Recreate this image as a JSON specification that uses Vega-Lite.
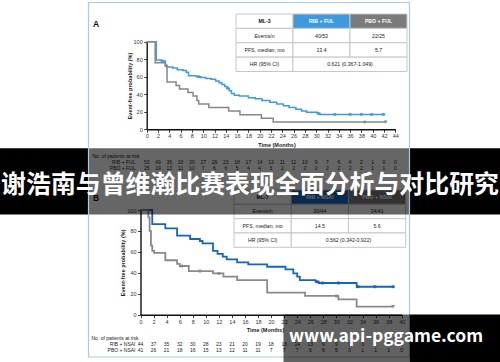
{
"$schema": "https://vega.github.io/schema/vega-lite/v6.json",
"width": 500, "height": 362, "padding": 0, "autosize": {"type": "none"},
"background": "#ffffff",
"config": {"view": {"stroke": null}, "font": "Liberation Sans", "text": {"font": "Liberation Sans"}},
"resolve": {"scale": {"x": "independent", "y": "independent", "color": "independent", "fill": "independent"}, "axis": {"x": "independent", "y": "independent"}},
"layer": [
{
 "data": {"values": [{"panel": "A"}, {"panel": "B"}]},
 "mark": {"type": "text", "fontSize": 8.5, "fontWeight": "bold", "align": "left", "baseline": "middle", "color": "#111111"},
 "encoding": {
  "text": {"field": "panel"},
  "x": {"datum": 93, "type": "quantitative", "scale": {"domain": [0, 500], "range": [0, 500], "nice": false, "zero": false}, "axis": null},
  "y": {"field": "panel", "type": "nominal", "scale": {"type": "point", "domain": ["A", "B"], "range": [23.7, 197.5], "padding": 0}, "axis": null}
 }
},
{
 "data": {"values": [
  {"row": "header", "c0": "label", "c1": "label", "text": "ML-3", "kind": "plain"},
  {"row": "header", "c0": "RIB", "c1": "RIB", "text": "RIB + FUL", "kind": "RIB"},
  {"row": "header", "c0": "PBO", "c1": "PBO", "text": "PBO + FUL", "kind": "PBO"},
  {"row": "events", "c0": "label", "c1": "label", "text": "Events/n", "kind": "plain"},
  {"row": "events", "c0": "RIB", "c1": "RIB", "text": "40/53", "kind": "plain"},
  {"row": "events", "c0": "PBO", "c1": "PBO", "text": "22/25", "kind": "plain"},
  {"row": "pfs", "c0": "label", "c1": "label", "text": "PFS, median, mo", "kind": "plain"},
  {"row": "pfs", "c0": "RIB", "c1": "RIB", "text": "13.4", "kind": "plain"},
  {"row": "pfs", "c0": "PBO", "c1": "PBO", "text": "5.7", "kind": "plain"},
  {"row": "hr", "c0": "label", "c1": "label", "text": "HR (95% CI)", "kind": "plain"},
  {"row": "hr", "c0": "RIB", "c1": "PBO", "text": "0.621 (0.367-1.049)", "kind": "plain"}
 ]},
 "layer": [
  {"mark": {"type": "rect", "stroke": "#c6c6c6", "strokeWidth": 1},
   "encoding": {
    "x": {"field": "c0", "type": "nominal", "bandPosition": 0, "scale": {"type": "band", "domain": ["label", "RIB", "PBO"], "range": [236, 407], "paddingInner": 0, "paddingOuter": 0}, "axis": null},
    "x2": {"field": "c1", "bandPosition": 1},
    "y": {"field": "row", "type": "nominal", "bandPosition": 0, "scale": {"type": "band", "domain": ["header", "events", "pfs", "hr"], "range": [14, 71.5], "paddingInner": 0, "paddingOuter": 0}, "axis": null},
    "y2": {"field": "row", "bandPosition": 1},
    "fill": {"field": "kind", "type": "nominal", "scale": {"domain": ["plain", "RIB", "PBO"], "range": ["#ffffff", "#3f9add", "#7b7b7b"]}, "legend": null}
   }},
  {"transform": [{"filter": "datum.row == 'header'"}],
   "mark": {"type": "text", "fontSize": 5.2, "fontWeight": "bold", "align": "center", "baseline": "middle"},
   "encoding": {
    "x": {"field": "c0", "type": "nominal", "bandPosition": 0.5, "scale": {"type": "band", "domain": ["label", "RIB", "PBO"], "range": [236, 407], "paddingInner": 0, "paddingOuter": 0}, "axis": null},
    "y": {"field": "row", "type": "nominal", "bandPosition": 0.5, "scale": {"type": "band", "domain": ["header", "events", "pfs", "hr"], "range": [14, 71.5], "paddingInner": 0, "paddingOuter": 0}, "axis": null},
    "text": {"field": "text"},
    "color": {"field": "kind", "type": "nominal", "scale": {"domain": ["plain", "RIB", "PBO"], "range": ["#111111", "#ffffff", "#ffffff"]}, "legend": null}
   }},
  {"transform": [{"filter": "datum.row != 'header' && datum.c0 == datum.c1"}],
   "mark": {"type": "text", "fontSize": 5.2, "align": "center", "baseline": "middle", "color": "#222222"},
   "encoding": {
    "x": {"field": "c0", "type": "nominal", "bandPosition": 0.5, "scale": {"type": "band", "domain": ["label", "RIB", "PBO"], "range": [236, 407], "paddingInner": 0, "paddingOuter": 0}, "axis": null},
    "y": {"field": "row", "type": "nominal", "bandPosition": 0.5, "scale": {"type": "band", "domain": ["header", "events", "pfs", "hr"], "range": [14, 71.5], "paddingInner": 0, "paddingOuter": 0}, "axis": null},
    "text": {"field": "text"}
   }},
  {"transform": [{"filter": "datum.c0 != datum.c1"}],
   "mark": {"type": "text", "fontSize": 5.2, "align": "center", "baseline": "middle", "color": "#222222"},
   "encoding": {
    "x": {"field": "c1", "type": "nominal", "bandPosition": 0, "scale": {"type": "band", "domain": ["label", "RIB", "PBO"], "range": [236, 407], "paddingInner": 0, "paddingOuter": 0}, "axis": null},
    "y": {"field": "row", "type": "nominal", "bandPosition": 0.5, "scale": {"type": "band", "domain": ["header", "events", "pfs", "hr"], "range": [14, 71.5], "paddingInner": 0, "paddingOuter": 0}, "axis": null},
    "text": {"field": "text"}
   }}
 ]
},
{
 "data": {"values": [
  {"arm": "RIB + FUL", "t": 0, "s": 100}, {"arm": "RIB + FUL", "t": 1.7, "s": 79}, {"arm": "RIB + FUL", "t": 2.6, "s": 78}, {"arm": "RIB + FUL", "t": 3.3, "s": 73}, {"arm": "RIB + FUL", "t": 3.6, "s": 71}, {"arm": "RIB + FUL", "t": 4.6, "s": 70}, {"arm": "RIB + FUL", "t": 5.4, "s": 68}, {"arm": "RIB + FUL", "t": 6.4, "s": 67}, {"arm": "RIB + FUL", "t": 7.0, "s": 65}, {"arm": "RIB + FUL", "t": 7.4, "s": 61}, {"arm": "RIB + FUL", "t": 8.8, "s": 60}, {"arm": "RIB + FUL", "t": 9.6, "s": 59}, {"arm": "RIB + FUL", "t": 10.5, "s": 58}, {"arm": "RIB + FUL", "t": 11.4, "s": 57}, {"arm": "RIB + FUL", "t": 12.2, "s": 55}, {"arm": "RIB + FUL", "t": 12.8, "s": 53}, {"arm": "RIB + FUL", "t": 13.3, "s": 51}, {"arm": "RIB + FUL", "t": 13.8, "s": 49}, {"arm": "RIB + FUL", "t": 14.2, "s": 47}, {"arm": "RIB + FUL", "t": 14.6, "s": 44}, {"arm": "RIB + FUL", "t": 15.0, "s": 41}, {"arm": "RIB + FUL", "t": 15.5, "s": 39}, {"arm": "RIB + FUL", "t": 16.4, "s": 38}, {"arm": "RIB + FUL", "t": 18.0, "s": 36}, {"arm": "RIB + FUL", "t": 19.2, "s": 35}, {"arm": "RIB + FUL", "t": 20.4, "s": 33}, {"arm": "RIB + FUL", "t": 21.8, "s": 31}, {"arm": "RIB + FUL", "t": 23.0, "s": 29}, {"arm": "RIB + FUL", "t": 24.2, "s": 27}, {"arm": "RIB + FUL", "t": 25.2, "s": 25}, {"arm": "RIB + FUL", "t": 26.4, "s": 23}, {"arm": "RIB + FUL", "t": 27.4, "s": 21}, {"arm": "RIB + FUL", "t": 28.3, "s": 19.5}, {"arm": "RIB + FUL", "t": 30.2, "s": 18}, {"arm": "RIB + FUL", "t": 30.7, "s": 17}, {"arm": "RIB + FUL", "t": 42.2, "s": 17},
  {"arm": "PBO + FUL", "t": 0, "s": 100}, {"arm": "PBO + FUL", "t": 1.5, "s": 76}, {"arm": "PBO + FUL", "t": 3.3, "s": 72}, {"arm": "PBO + FUL", "t": 3.6, "s": 54}, {"arm": "PBO + FUL", "t": 5.2, "s": 50}, {"arm": "PBO + FUL", "t": 5.8, "s": 46}, {"arm": "PBO + FUL", "t": 7.3, "s": 42}, {"arm": "PBO + FUL", "t": 8.2, "s": 38}, {"arm": "PBO + FUL", "t": 8.9, "s": 33}, {"arm": "PBO + FUL", "t": 9.2, "s": 29}, {"arm": "PBO + FUL", "t": 11.0, "s": 25}, {"arm": "PBO + FUL", "t": 14.5, "s": 21}, {"arm": "PBO + FUL", "t": 16.5, "s": 16.5}, {"arm": "PBO + FUL", "t": 20.3, "s": 12.5}, {"arm": "PBO + FUL", "t": 22.4, "s": 8.3}, {"arm": "PBO + FUL", "t": 42.3, "s": 8.3}
 ]},
 "mark": {"type": "line", "interpolate": "step-after", "strokeWidth": 1.5},
 "encoding": {
  "x": {"field": "t", "type": "quantitative", "scale": {"domain": [0, 44], "range": [146.7, 395.3], "nice": false, "zero": false},
   "axis": {"orient": "bottom", "offset": -232.7, "values": [0,2,4,6,8,10,12,14,16,18,20,22,24,26,28,30,32,34,36,38,40,42,44], "title": "Time (Months)", "titleX": 276.5, "titleAlign": "center", "titleFontSize": 5.5, "titleFontWeight": "bold", "titleColor": "#222222", "titlePadding": 3.2, "labelFontSize": 5.5, "labelColor": "#333333", "labelPadding": 1.5, "labelFlush": false, "labelOverlap": false, "tickSize": 3, "tickColor": "#111111", "tickWidth": 0.8, "domainColor": "#111111", "domainWidth": 1.4, "grid": false}},
  "y": {"field": "s", "type": "quantitative", "scale": {"domain": [0, 100], "range": [129.3, 41.7], "nice": false, "zero": false},
   "axis": {"orient": "left", "offset": -146.7, "values": [0,20,40,60,80,100], "title": "Event-free probability (%)", "titleFontSize": 5.5, "titleFontWeight": "bold", "titleColor": "#222222", "titlePadding": 0.5, "labelFontSize": 5.5, "labelColor": "#333333", "labelPadding": 1.5, "labelFlush": false, "labelOverlap": false, "tickSize": 3, "tickColor": "#111111", "tickWidth": 0.8, "domainColor": "#111111", "domainWidth": 1.4, "grid": false}},
  "color": {"field": "arm", "type": "nominal", "scale": {"domain": ["RIB + FUL", "PBO + FUL"], "range": ["#3d9ae0", "#878787"]}, "legend": null}
 }
},
{
 "data": {"values": [
  {"arm": "RIB + FUL", "t": 2.8, "s": 78}, {"arm": "RIB + FUL", "t": 9.2, "s": 60}, {"arm": "RIB + FUL", "t": 14.3, "s": 47}, {"arm": "RIB + FUL", "t": 30.4, "s": 18}, {"arm": "RIB + FUL", "t": 33.3, "s": 17}, {"arm": "RIB + FUL", "t": 36.0, "s": 17}, {"arm": "RIB + FUL", "t": 38.0, "s": 17}, {"arm": "RIB + FUL", "t": 39.8, "s": 17}, {"arm": "RIB + FUL", "t": 41.9, "s": 17},
  {"arm": "PBO + FUL", "t": 38.6, "s": 8.3}
 ]},
 "mark": {"type": "point", "shape": "square", "filled": true, "size": 7, "opacity": 1},
 "encoding": {
  "x": {"field": "t", "type": "quantitative", "scale": {"domain": [0, 44], "range": [146.7, 395.3], "nice": false, "zero": false}, "axis": null},
  "y": {"field": "s", "type": "quantitative", "scale": {"domain": [0, 100], "range": [129.3, 41.7], "nice": false, "zero": false}, "axis": null},
  "color": {"field": "arm", "type": "nominal", "scale": {"domain": ["RIB + FUL", "PBO + FUL"], "range": ["#3d9ae0", "#878787"]}, "legend": null}
 }
},
{
 "data": {"values": [{"arm": "PBO + FUL", "t": 42.3, "s": 8.3}]},
 "mark": {"type": "point", "shape": "triangle-down", "filled": true, "size": 14, "opacity": 1, "color": "#878787"},
 "encoding": {
  "x": {"field": "t", "type": "quantitative", "scale": {"domain": [0, 44], "range": [146.7, 395.3], "nice": false, "zero": false}, "axis": null},
  "y": {"field": "s", "type": "quantitative", "scale": {"domain": [0, 100], "range": [129.3, 41.7], "nice": false, "zero": false}, "axis": null}
 }
},
{
 "data": {"values": [
  {"arm": "RIB + FUL", "t": 0, "n": 53}, {"arm": "RIB + FUL", "t": 2, "n": 40}, {"arm": "RIB + FUL", "t": 4, "n": 36}, {"arm": "RIB + FUL", "t": 6, "n": 33}, {"arm": "RIB + FUL", "t": 8, "n": 30}, {"arm": "RIB + FUL", "t": 10, "n": 27}, {"arm": "RIB + FUL", "t": 12, "n": 26}, {"arm": "RIB + FUL", "t": 14, "n": 23}, {"arm": "RIB + FUL", "t": 16, "n": 18}, {"arm": "RIB + FUL", "t": 18, "n": 17}, {"arm": "RIB + FUL", "t": 20, "n": 14}, {"arm": "RIB + FUL", "t": 22, "n": 13}, {"arm": "RIB + FUL", "t": 24, "n": 11}, {"arm": "RIB + FUL", "t": 26, "n": 11}, {"arm": "RIB + FUL", "t": 28, "n": 10}, {"arm": "RIB + FUL", "t": 30, "n": 9}, {"arm": "RIB + FUL", "t": 32, "n": 7}, {"arm": "RIB + FUL", "t": 34, "n": 6}, {"arm": "RIB + FUL", "t": 36, "n": 4}, {"arm": "RIB + FUL", "t": 38, "n": 2}, {"arm": "RIB + FUL", "t": 40, "n": 1}, {"arm": "RIB + FUL", "t": 42, "n": 0}, {"arm": "RIB + FUL", "t": 44, "n": 0},
  {"arm": "PBO + FUL", "t": 0, "n": 25}, {"arm": "PBO + FUL", "t": 2, "n": 19}, {"arm": "PBO + FUL", "t": 4, "n": 13}, {"arm": "PBO + FUL", "t": 6, "n": 11}, {"arm": "PBO + FUL", "t": 8, "n": 10}, {"arm": "PBO + FUL", "t": 10, "n": 7}, {"arm": "PBO + FUL", "t": 12, "n": 6}, {"arm": "PBO + FUL", "t": 14, "n": 6}, {"arm": "PBO + FUL", "t": 16, "n": 5}, {"arm": "PBO + FUL", "t": 18, "n": 4}, {"arm": "PBO + FUL", "t": 20, "n": 4}, {"arm": "PBO + FUL", "t": 22, "n": 3}, {"arm": "PBO + FUL", "t": 24, "n": 2}, {"arm": "PBO + FUL", "t": 26, "n": 2}, {"arm": "PBO + FUL", "t": 28, "n": 2}, {"arm": "PBO + FUL", "t": 30, "n": 2}, {"arm": "PBO + FUL", "t": 32, "n": 2}, {"arm": "PBO + FUL", "t": 34, "n": 2}, {"arm": "PBO + FUL", "t": 36, "n": 2}, {"arm": "PBO + FUL", "t": 38, "n": 2}, {"arm": "PBO + FUL", "t": 40, "n": 1}, {"arm": "PBO + FUL", "t": 42, "n": 1}, {"arm": "PBO + FUL", "t": 44, "n": 0}
 ]},
 "mark": {"type": "text", "fontSize": 5, "color": "#222222", "align": "center", "baseline": "middle"},
 "encoding": {
  "x": {"field": "t", "type": "quantitative", "scale": {"domain": [0, 44], "range": [146.7, 395.3], "nice": false, "zero": false}, "axis": null},
  "y": {"field": "arm", "type": "nominal", "scale": {"type": "band", "domain": ["RIB + FUL", "PBO + FUL"], "range": [158.8, 171.6], "paddingInner": 0, "paddingOuter": 0},
   "axis": {"orient": "left", "offset": -137, "ticks": false, "tickSize": 0, "domain": false, "labelPadding": 2, "labelFontSize": 5, "labelColor": "#222222", "title": "No. of patients at risk", "titleAngle": 0, "titleX": -45, "titleY": 155, "titleAlign": "left", "titleBaseline": "middle", "titleFontSize": 5, "titleFontWeight": "normal", "titleColor": "#222222", "grid": false}},
  "text": {"field": "n"}
 }
},
{
 "data": {"values": [
  {"row": "header", "c0": "label", "c1": "label", "text": "ML-7", "kind": "plain"},
  {"row": "header", "c0": "RIB", "c1": "RIB", "text": "RIB + NSAI", "kind": "RIB"},
  {"row": "header", "c0": "PBO", "c1": "PBO", "text": "PBO + NSAI", "kind": "PBO"},
  {"row": "events", "c0": "label", "c1": "label", "text": "Events/n", "kind": "plain"},
  {"row": "events", "c0": "RIB", "c1": "RIB", "text": "30/44", "kind": "plain"},
  {"row": "events", "c0": "PBO", "c1": "PBO", "text": "34/41", "kind": "plain"},
  {"row": "pfs", "c0": "label", "c1": "label", "text": "PFS, median, mo", "kind": "plain"},
  {"row": "pfs", "c0": "RIB", "c1": "RIB", "text": "14.5", "kind": "plain"},
  {"row": "pfs", "c0": "PBO", "c1": "PBO", "text": "5.6", "kind": "plain"},
  {"row": "hr", "c0": "label", "c1": "label", "text": "HR (95% CI)", "kind": "plain"},
  {"row": "hr", "c0": "RIB", "c1": "PBO", "text": "0.562 (0.342-0.922)", "kind": "plain"}
 ]},
 "layer": [
  {"mark": {"type": "rect", "stroke": "#c6c6c6", "strokeWidth": 1},
   "encoding": {
    "x": {"field": "c0", "type": "nominal", "bandPosition": 0, "scale": {"type": "band", "domain": ["label", "RIB", "PBO"], "range": [234, 405.7], "paddingInner": 0, "paddingOuter": 0}, "axis": null},
    "x2": {"field": "c1", "bandPosition": 1},
    "y": {"field": "row", "type": "nominal", "bandPosition": 0, "scale": {"type": "band", "domain": ["header", "events", "pfs", "hr"], "range": [190, 247.3], "paddingInner": 0, "paddingOuter": 0}, "axis": null},
    "y2": {"field": "row", "bandPosition": 1},
    "fill": {"field": "kind", "type": "nominal", "scale": {"domain": ["plain", "RIB", "PBO"], "range": ["#ffffff", "#1565c0", "#7b7b7b"]}, "legend": null}
   }},
  {"transform": [{"filter": "datum.row == 'header'"}],
   "mark": {"type": "text", "fontSize": 5.2, "fontWeight": "bold", "align": "center", "baseline": "middle"},
   "encoding": {
    "x": {"field": "c0", "type": "nominal", "bandPosition": 0.5, "scale": {"type": "band", "domain": ["label", "RIB", "PBO"], "range": [234, 405.7], "paddingInner": 0, "paddingOuter": 0}, "axis": null},
    "y": {"field": "row", "type": "nominal", "bandPosition": 0.5, "scale": {"type": "band", "domain": ["header", "events", "pfs", "hr"], "range": [190, 247.3], "paddingInner": 0, "paddingOuter": 0}, "axis": null},
    "text": {"field": "text"},
    "color": {"field": "kind", "type": "nominal", "scale": {"domain": ["plain", "RIB", "PBO"], "range": ["#111111", "#ffffff", "#ffffff"]}, "legend": null}
   }},
  {"transform": [{"filter": "datum.row != 'header' && datum.c0 == datum.c1"}],
   "mark": {"type": "text", "fontSize": 5.2, "align": "center", "baseline": "middle", "color": "#222222"},
   "encoding": {
    "x": {"field": "c0", "type": "nominal", "bandPosition": 0.5, "scale": {"type": "band", "domain": ["label", "RIB", "PBO"], "range": [234, 405.7], "paddingInner": 0, "paddingOuter": 0}, "axis": null},
    "y": {"field": "row", "type": "nominal", "bandPosition": 0.5, "scale": {"type": "band", "domain": ["header", "events", "pfs", "hr"], "range": [190, 247.3], "paddingInner": 0, "paddingOuter": 0}, "axis": null},
    "text": {"field": "text"}
   }},
  {"transform": [{"filter": "datum.c0 != datum.c1"}],
   "mark": {"type": "text", "fontSize": 5.2, "align": "center", "baseline": "middle", "color": "#222222"},
   "encoding": {
    "x": {"field": "c1", "type": "nominal", "bandPosition": 0, "scale": {"type": "band", "domain": ["label", "RIB", "PBO"], "range": [234, 405.7], "paddingInner": 0, "paddingOuter": 0}, "axis": null},
    "y": {"field": "row", "type": "nominal", "bandPosition": 0.5, "scale": {"type": "band", "domain": ["header", "events", "pfs", "hr"], "range": [190, 247.3], "paddingInner": 0, "paddingOuter": 0}, "axis": null},
    "text": {"field": "text"}
   }}
 ]
},
{
 "data": {"values": [
  {"arm": "RIB + NSAI", "t": 0, "s": 100}, {"arm": "RIB + NSAI", "t": 1.8, "s": 86.5}, {"arm": "RIB + NSAI", "t": 3.8, "s": 82.5}, {"arm": "RIB + NSAI", "t": 5.6, "s": 75.5}, {"arm": "RIB + NSAI", "t": 7.6, "s": 72.3}, {"arm": "RIB + NSAI", "t": 9.1, "s": 70.4}, {"arm": "RIB + NSAI", "t": 9.5, "s": 68.2}, {"arm": "RIB + NSAI", "t": 11.1, "s": 61}, {"arm": "RIB + NSAI", "t": 11.8, "s": 58}, {"arm": "RIB + NSAI", "t": 12.6, "s": 55.4}, {"arm": "RIB + NSAI", "t": 13.2, "s": 52.9}, {"arm": "RIB + NSAI", "t": 14.8, "s": 50}, {"arm": "RIB + NSAI", "t": 16.5, "s": 48}, {"arm": "RIB + NSAI", "t": 19.4, "s": 45.8}, {"arm": "RIB + NSAI", "t": 22.2, "s": 43.3}, {"arm": "RIB + NSAI", "t": 23.4, "s": 39.5}, {"arm": "RIB + NSAI", "t": 24.0, "s": 36.3}, {"arm": "RIB + NSAI", "t": 24.4, "s": 33}, {"arm": "RIB + NSAI", "t": 26.8, "s": 31.5}, {"arm": "RIB + NSAI", "t": 27.3, "s": 30.3}, {"arm": "RIB + NSAI", "t": 33.1, "s": 26.7}, {"arm": "RIB + NSAI", "t": 38.7, "s": 26.7},
  {"arm": "PBO + NSAI", "t": 0, "s": 100}, {"arm": "PBO + NSAI", "t": 1.2, "s": 93}, {"arm": "PBO + NSAI", "t": 1.4, "s": 80}, {"arm": "PBO + NSAI", "t": 1.6, "s": 66}, {"arm": "PBO + NSAI", "t": 1.8, "s": 61}, {"arm": "PBO + NSAI", "t": 2.1, "s": 59}, {"arm": "PBO + NSAI", "t": 3.8, "s": 52}, {"arm": "PBO + NSAI", "t": 5.6, "s": 48.5}, {"arm": "PBO + NSAI", "t": 6.0, "s": 46.5}, {"arm": "PBO + NSAI", "t": 7.4, "s": 41.7}, {"arm": "PBO + NSAI", "t": 11.1, "s": 39.5}, {"arm": "PBO + NSAI", "t": 12.7, "s": 36.3}, {"arm": "PBO + NSAI", "t": 14.8, "s": 33}, {"arm": "PBO + NSAI", "t": 19.4, "s": 21}, {"arm": "PBO + NSAI", "t": 25.2, "s": 17.9}, {"arm": "PBO + NSAI", "t": 30.3, "s": 14.7}, {"arm": "PBO + NSAI", "t": 33.1, "s": 7.7}, {"arm": "PBO + NSAI", "t": 38.7, "s": 7.7}
 ]},
 "mark": {"type": "line", "interpolate": "step-after", "strokeWidth": 1.8},
 "encoding": {
  "x": {"field": "t", "type": "quantitative", "scale": {"domain": [0, 40], "range": [140.5, 401.7], "nice": false, "zero": false},
   "axis": {"orient": "bottom", "offset": -47.3, "values": [0,2,4,6,8,10,12,14,16,18,20,22,24,26,28,30,32,34,36,38,40], "title": "Time (Months)", "titleX": 265, "titleAlign": "center", "titleFontSize": 5.5, "titleFontWeight": "bold", "titleColor": "#222222", "titlePadding": 3, "labelFontSize": 5.5, "labelColor": "#333333", "labelPadding": 1.5, "labelFlush": false, "labelOverlap": false, "tickSize": 3, "tickColor": "#111111", "tickWidth": 0.8, "domainColor": "#111111", "domainWidth": 1.4, "grid": false}},
  "y": {"field": "s", "type": "quantitative", "scale": {"domain": [0, 100], "range": [314.7, 210], "nice": false, "zero": false},
   "axis": {"orient": "left", "offset": -140.5, "values": [0,20,40,60,80,100], "title": "Event-free probability (%)", "titleFontSize": 5.5, "titleFontWeight": "bold", "titleColor": "#222222", "titlePadding": 1.5, "labelFontSize": 5.5, "labelColor": "#333333", "labelPadding": 1.5, "labelFlush": false, "labelOverlap": false, "tickSize": 3, "tickColor": "#111111", "tickWidth": 0.8, "domainColor": "#111111", "domainWidth": 1.4, "grid": false}},
  "color": {"field": "arm", "type": "nominal", "scale": {"domain": ["RIB + NSAI", "PBO + NSAI"], "range": ["#1565c0", "#8a8a8a"]}, "legend": null}
 }
},
{
 "data": {"values": [
  {"arm": "RIB + NSAI", "t": 27.0, "s": 31.5}, {"arm": "RIB + NSAI", "t": 27.9, "s": 30.3}, {"arm": "RIB + NSAI", "t": 30.3, "s": 30.3}, {"arm": "RIB + NSAI", "t": 33.3, "s": 26.7}, {"arm": "RIB + NSAI", "t": 35.9, "s": 26.7}, {"arm": "RIB + NSAI", "t": 38.7, "s": 26.7},
  {"arm": "PBO + NSAI", "t": 6.3, "s": 46.5}, {"arm": "PBO + NSAI", "t": 9.1, "s": 41.7}, {"arm": "PBO + NSAI", "t": 12.0, "s": 39.5}, {"arm": "PBO + NSAI", "t": 30.0, "s": 17.9}
 ]},
 "mark": {"type": "point", "shape": "square", "filled": true, "size": 8, "opacity": 1},
 "encoding": {
  "x": {"field": "t", "type": "quantitative", "scale": {"domain": [0, 40], "range": [140.5, 401.7], "nice": false, "zero": false}, "axis": null},
  "y": {"field": "s", "type": "quantitative", "scale": {"domain": [0, 100], "range": [314.7, 210], "nice": false, "zero": false}, "axis": null},
  "color": {"field": "arm", "type": "nominal", "scale": {"domain": ["RIB + NSAI", "PBO + NSAI"], "range": ["#1565c0", "#8a8a8a"]}, "legend": null}
 }
},
{
 "data": {"values": [{"arm": "PBO + NSAI", "t": 38.7, "s": 7.7}]},
 "mark": {"type": "point", "shape": "triangle-down", "filled": true, "size": 16, "opacity": 1, "color": "#8a8a8a"},
 "encoding": {
  "x": {"field": "t", "type": "quantitative", "scale": {"domain": [0, 40], "range": [140.5, 401.7], "nice": false, "zero": false}, "axis": null},
  "y": {"field": "s", "type": "quantitative", "scale": {"domain": [0, 100], "range": [314.7, 210], "nice": false, "zero": false}, "axis": null}
 }
},
{
 "data": {"values": [
  {"arm": "RIB + NSAI", "t": 0, "n": 44}, {"arm": "RIB + NSAI", "t": 2, "n": 37}, {"arm": "RIB + NSAI", "t": 4, "n": 35}, {"arm": "RIB + NSAI", "t": 6, "n": 32}, {"arm": "RIB + NSAI", "t": 8, "n": 30}, {"arm": "RIB + NSAI", "t": 10, "n": 28}, {"arm": "RIB + NSAI", "t": 12, "n": 23}, {"arm": "RIB + NSAI", "t": 14, "n": 21}, {"arm": "RIB + NSAI", "t": 16, "n": 20}, {"arm": "RIB + NSAI", "t": 18, "n": 19}, {"arm": "RIB + NSAI", "t": 20, "n": 18}, {"arm": "RIB + NSAI", "t": 22, "n": 18}, {"arm": "RIB + NSAI", "t": 24, "n": 14}, {"arm": "RIB + NSAI", "t": 26, "n": 13}, {"arm": "RIB + NSAI", "t": 28, "n": 9}, {"arm": "RIB + NSAI", "t": 30, "n": 9}, {"arm": "RIB + NSAI", "t": 32, "n": 7}, {"arm": "RIB + NSAI", "t": 34, "n": 3}, {"arm": "RIB + NSAI", "t": 36, "n": 1}, {"arm": "RIB + NSAI", "t": 38, "n": 1}, {"arm": "RIB + NSAI", "t": 40, "n": 0},
  {"arm": "PBO + NSAI", "t": 0, "n": 41}, {"arm": "PBO + NSAI", "t": 2, "n": 26}, {"arm": "PBO + NSAI", "t": 4, "n": 21}, {"arm": "PBO + NSAI", "t": 6, "n": 18}, {"arm": "PBO + NSAI", "t": 8, "n": 16}, {"arm": "PBO + NSAI", "t": 10, "n": 15}, {"arm": "PBO + NSAI", "t": 12, "n": 13}, {"arm": "PBO + NSAI", "t": 14, "n": 12}, {"arm": "PBO + NSAI", "t": 16, "n": 11}, {"arm": "PBO + NSAI", "t": 18, "n": 11}, {"arm": "PBO + NSAI", "t": 20, "n": 7}, {"arm": "PBO + NSAI", "t": 22, "n": 7}, {"arm": "PBO + NSAI", "t": 24, "n": 7}, {"arm": "PBO + NSAI", "t": 26, "n": 6}, {"arm": "PBO + NSAI", "t": 28, "n": 6}, {"arm": "PBO + NSAI", "t": 30, "n": 5}, {"arm": "PBO + NSAI", "t": 32, "n": 3}, {"arm": "PBO + NSAI", "t": 34, "n": 1}, {"arm": "PBO + NSAI", "t": 36, "n": 1}, {"arm": "PBO + NSAI", "t": 38, "n": 1}, {"arm": "PBO + NSAI", "t": 40, "n": 0}
 ]},
 "mark": {"type": "text", "fontSize": 5, "color": "#222222", "align": "center", "baseline": "middle"},
 "encoding": {
  "x": {"field": "t", "type": "quantitative", "scale": {"domain": [0, 40], "range": [140.5, 401.7], "nice": false, "zero": false}, "axis": null},
  "y": {"field": "arm", "type": "nominal", "scale": {"type": "band", "domain": ["RIB + NSAI", "PBO + NSAI"], "range": [340.6, 353.4], "paddingInner": 0, "paddingOuter": 0},
   "axis": {"orient": "left", "offset": -137, "ticks": false, "tickSize": 0, "domain": false, "labelPadding": 2, "labelFontSize": 5, "labelColor": "#222222", "title": "No. of patients at risk", "titleAngle": 0, "titleX": -46, "titleY": 337.6, "titleAlign": "left", "titleBaseline": "middle", "titleFontSize": 5, "titleFontWeight": "normal", "titleColor": "#222222", "grid": false}},
  "text": {"field": "n"}
 }
},
{
 "data": {"values": [{}]},
 "layer": [
  {"mark": {"type": "rect", "color": "#000000", "opacity": 1},
   "encoding": {"x": {"datum": 0, "type": "quantitative", "scale": {"domain": [0, 500], "range": [0, 500], "nice": false, "zero": false}, "axis": null}, "x2": {"datum": 88.5},
    "y": {"datum": 148.3, "type": "quantitative", "scale": {"domain": [0, 362], "range": [0, 362], "nice": false, "zero": false}, "axis": null}, "y2": {"datum": 214.5}}},
  {"mark": {"type": "rect", "color": "#000000", "opacity": 0.6},
   "encoding": {"x": {"datum": 88.5, "type": "quantitative", "scale": {"domain": [0, 500], "range": [0, 500], "nice": false, "zero": false}, "axis": null}, "x2": {"datum": 409.5},
    "y": {"datum": 148.3, "type": "quantitative", "scale": {"domain": [0, 362], "range": [0, 362], "nice": false, "zero": false}, "axis": null}, "y2": {"datum": 214.5}}},
  {"mark": {"type": "rect", "color": "#000000", "opacity": 1},
   "encoding": {"x": {"datum": 409.5, "type": "quantitative", "scale": {"domain": [0, 500], "range": [0, 500], "nice": false, "zero": false}, "axis": null}, "x2": {"datum": 500},
    "y": {"datum": 148.3, "type": "quantitative", "scale": {"domain": [0, 362], "range": [0, 362], "nice": false, "zero": false}, "axis": null}, "y2": {"datum": 214.5}}},
  {"mark": {"type": "rect", "fill": "#ffffff", "fillOpacity": 0, "stroke": "#a6cbee", "strokeWidth": 1.2},
   "encoding": {"x": {"datum": 88.5, "type": "quantitative", "scale": {"domain": [0, 500], "range": [0, 500], "nice": false, "zero": false}, "axis": null}, "x2": {"datum": 409.5},
    "y": {"datum": 2.5, "type": "quantitative", "scale": {"domain": [0, 362], "range": [0, 362], "nice": false, "zero": false}, "axis": null}, "y2": {"datum": 357}}},
  {"mark": {"type": "rect", "color": "#000000", "opacity": 0.62},
   "encoding": {"x": {"datum": 283.5, "type": "quantitative", "scale": {"domain": [0, 500], "range": [0, 500], "nice": false, "zero": false}, "axis": null}, "x2": {"datum": 409.5},
    "y": {"datum": 314.5, "type": "quantitative", "scale": {"domain": [0, 362], "range": [0, 362], "nice": false, "zero": false}, "axis": null}, "y2": {"datum": 362}}},
  {"mark": {"type": "rect", "color": "#000000", "opacity": 1},
   "encoding": {"x": {"datum": 409.5, "type": "quantitative", "scale": {"domain": [0, 500], "range": [0, 500], "nice": false, "zero": false}, "axis": null}, "x2": {"datum": 500},
    "y": {"datum": 314.5, "type": "quantitative", "scale": {"domain": [0, 362], "range": [0, 362], "nice": false, "zero": false}, "axis": null}, "y2": {"datum": 362}}},
  {"mark": {"type": "text", "text": "谢浩南与曾维瀚比赛表现全面分析与对比研究", "font": "Noto Sans CJK SC", "fontWeight": "bold", "fontSize": 24.9, "color": "#ffffff", "align": "center", "baseline": "alphabetic"},
   "encoding": {"x": {"datum": 250, "type": "quantitative", "scale": {"domain": [0, 500], "range": [0, 500], "nice": false, "zero": false}, "axis": null},
    "y": {"datum": 193, "type": "quantitative", "scale": {"domain": [0, 362], "range": [0, 362], "nice": false, "zero": false}, "axis": null}}},
  {"mark": {"type": "text", "text": "www.api-pggame.com", "font": "Noto Sans CJK SC", "fontWeight": "bold", "fontSize": 17.5, "color": "#ffffff", "align": "center", "baseline": "alphabetic"},
   "encoding": {"x": {"datum": 386, "type": "quantitative", "scale": {"domain": [0, 500], "range": [0, 500], "nice": false, "zero": false}, "axis": null},
    "y": {"datum": 342, "type": "quantitative", "scale": {"domain": [0, 362], "range": [0, 362], "nice": false, "zero": false}, "axis": null}}}
 ]
}
]
}
